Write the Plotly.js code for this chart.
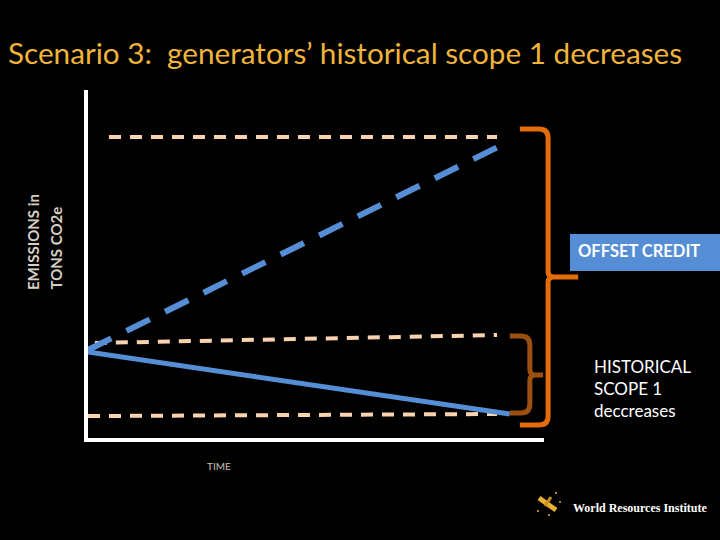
<!DOCTYPE html>
<html>
<head>
<meta charset="utf-8">
<script src="https://cdn.plot.ly/plotly-3.0.1.min.js"></script>
<style>
  html, body { margin: 0; padding: 0; background: #000; }
  #chart { width: 720px; height: 540px; }
</style>
</head>
<body>
<div id="chart"></div>
<script>
// ---- Data (schematic values; time 0-10, emissions 0-100) ----
const capTime = [0.46, 8.97];          // upper reference level (peach dashed, top)
const capEmissions = [86.5, 86.5];

const baselineTime = [0, 9.17];        // projected baseline (blue dashed)
const baselineEmissions = [25.3, 84.8];

const historicalTime = [0.15, 8.97];   // historical level (peach dashed, middle)
const historicalEmissions = [27.3, 29.6];

const actualTime = [0, 9.25];          // actual generator scope 1 (blue solid)
const actualEmissions = [24.7, 6.9];

const lowerTime = [0, 8.97];           // lower reference level (peach dashed, bottom)
const lowerEmissions = [6.3, 6.9];

// Brace spans (in data units)
const offsetBrace = { top: 88.8, mid: 46.3, bottom: 3.7, arm: 9.47, spine: 10.09, tip: 10.75 };
const historyBrace = { top: 29.3, mid: 18.1, bottom: 7.2, arm: 9.25, spine: 9.69, tip: 9.98 };

const titleText = "Scenario 3:\u00a0\u00a0generators\u2019 historical scope 1 decreases";
const yTitleLines = ["EMISSIONS in", "TONS CO2e"];
const xTitle = "TIME";
const offsetLabel = "OFFSET CREDIT";
const historyLabel = "HISTORICAL<br>SCOPE 1<br>deccreases";
const sourceLabel = "World Resources Institute";

// ---- Layout geometry ----
const W = 720, H = 540;
const M = { l: 88, r: 176, t: 90, b: 102 };
const PW = W - M.l - M.r, PH = H - M.t - M.b;
const XR = [0, 10], YR = [0, 100];
const px = x => (x - M.l) / PW;          // pixel -> paper
const py = y => (H - M.b - y) / PH;
const dx = v => (v - XR[0]) / (XR[1] - XR[0]); // data -> paper
const dy = v => (v - YR[0]) / (YR[1] - YR[0]);

const PEACH = '#F9D2B0', BLUE = '#558ED5', ORANGE = '#E46C0A', BROWN = '#9C4F0E', GOLD = '#E8B030';

const traces = [
  { x: capTime, y: capEmissions, mode: 'lines', line: { color: PEACH, width: 4, dash: '12px,9px' } },
  { x: historicalTime, y: historicalEmissions, mode: 'lines', line: { color: PEACH, width: 4, dash: '12px,9px' } },
  { x: lowerTime, y: lowerEmissions, mode: 'lines', line: { color: PEACH, width: 4, dash: '12px,9px' } },
  { x: baselineTime, y: baselineEmissions, mode: 'lines', line: { color: BLUE, width: 6, dash: '26px,17px' } },
  { x: actualTime, y: actualEmissions, mode: 'lines', line: { color: BLUE, width: 5 } }
];

function bracePath(b) {
  const rx = 9 / PW, ry = 9 / PH;
  const ax = dx(b.arm), sx = dx(b.spine), tx = dx(b.tip);
  const t = dy(b.top), m = dy(b.mid), bo = dy(b.bottom);
  return `M ${ax},${t} L ${sx - rx},${t} Q ${sx},${t} ${sx},${t - ry} ` +
         `L ${sx},${m + ry * 0.6} Q ${sx},${m} ${sx + rx * 0.6},${m} L ${tx},${m} ` +
         `M ${sx + rx * 0.6},${m} Q ${sx},${m} ${sx},${m - ry * 0.6} ` +
         `L ${sx},${bo + ry} Q ${sx},${bo} ${sx - rx},${bo} L ${ax},${bo}`;
}

const shapes = [
  { type: 'path', xref: 'paper', yref: 'paper', path: bracePath(offsetBrace), line: { color: ORANGE, width: 5 } },
  { type: 'path', xref: 'paper', yref: 'paper', path: bracePath(historyBrace), line: { color: BROWN, width: 5 } },
  { type: 'rect', xref: 'paper', yref: 'paper', x0: px(570), x1: px(720), y0: py(271), y1: py(234),
    fillcolor: BLUE, line: { width: 0 } },
  // logo mark
  { type: 'line', xref: 'paper', yref: 'paper', x0: px(539), y0: py(498), x1: px(556), y1: py(510), line: { color: GOLD, width: 5 } },
  { type: 'line', xref: 'paper', yref: 'paper', x0: px(545), y0: py(506), x1: px(551), y1: py(497), line: { color: '#C89020', width: 3 } },
  { type: 'circle', xref: 'paper', yref: 'paper', x0: px(555), x1: px(557), y0: py(494), y1: py(492), fillcolor: GOLD, line: { width: 0 } },
  { type: 'circle', xref: 'paper', yref: 'paper', x0: px(537), x1: px(539), y0: py(512), y1: py(510), fillcolor: GOLD, line: { width: 0 } },
  { type: 'circle', xref: 'paper', yref: 'paper', x0: px(548), x1: px(550), y0: py(516), y1: py(514), fillcolor: GOLD, line: { width: 0 } },
  { type: 'circle', xref: 'paper', yref: 'paper', x0: px(559), x1: px(561), y0: py(503), y1: py(501), fillcolor: GOLD, line: { width: 0 } }
];

const annotations = [
  { text: yTitleLines[0], xref: 'paper', yref: 'paper', x: px(33), y: py(292), xanchor: 'center', yanchor: 'bottom',
    textangle: -90, showarrow: false, font: { family: 'Lato', size: 15, color: '#D6D0C4', weight: 'bold' } },
  { text: yTitleLines[1], xref: 'paper', yref: 'paper', x: px(55), y: py(292), xanchor: 'center', yanchor: 'bottom',
    textangle: -90, showarrow: false, font: { family: 'Lato', size: 15, color: '#D6D0C4', weight: 'bold' } },
  { text: xTitle, xref: 'paper', yref: 'paper', x: px(205), y: py(466), xanchor: 'left', yanchor: 'middle',
    showarrow: false, font: { family: 'Lato', size: 10, color: '#C8C2B8' } },
  { text: offsetLabel, xref: 'paper', yref: 'paper', x: px(576), y: py(251), xanchor: 'left', yanchor: 'middle',
    showarrow: false, font: { family: 'Lato', size: 16.5, color: '#FFFFFF', weight: 'bold' } },
  { text: historyLabel, xref: 'paper', yref: 'paper', x: px(592), y: py(388), xanchor: 'left', yanchor: 'middle', align: 'left',
    showarrow: false, font: { family: 'Lato', size: 17, color: '#FFFFFF' } },
  { text: sourceLabel, xref: 'paper', yref: 'paper', x: px(571), y: py(508), xanchor: 'left', yanchor: 'middle',
    showarrow: false, font: { family: 'Liberation Serif', size: 12, color: '#FFFFFF', weight: 'bold' } }
];

const layout = {
  width: W, height: H,
  margin: M,
  paper_bgcolor: '#000000', plot_bgcolor: '#000000',
  showlegend: false,
  title: { text: titleText, xref: 'container', yref: 'container', x: 8 / W, xanchor: 'left',
           y: 1 - 54 / H, yanchor: 'middle', font: { family: 'Lato', size: 29.7, color: '#F0B43A' } },
  xaxis: { range: XR, showgrid: false, zeroline: false, showticklabels: false, ticks: '',
           showline: true, linecolor: '#FFFFFF', linewidth: 4, fixedrange: true },
  yaxis: { range: YR, showgrid: false, zeroline: false, showticklabels: false, ticks: '',
           showline: true, linecolor: '#FFFFFF', linewidth: 4, fixedrange: true },
  shapes: shapes,
  annotations: annotations
};

Plotly.newPlot('chart', traces, layout, { staticPlot: true, displayModeBar: false });
</script>
</body>
</html>
